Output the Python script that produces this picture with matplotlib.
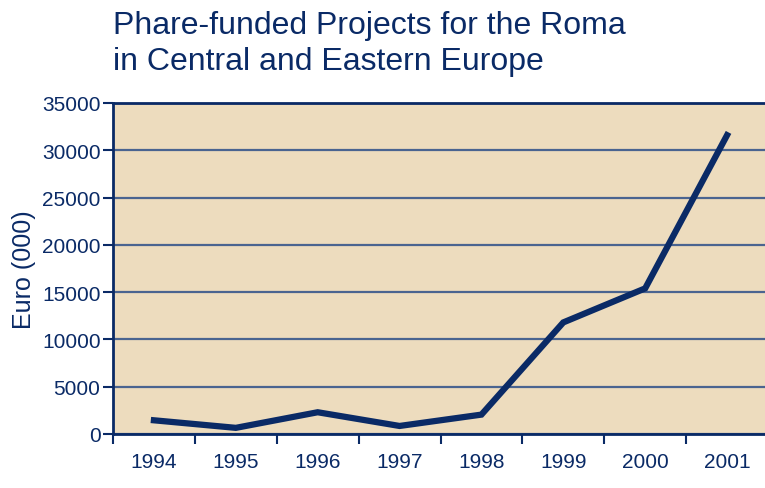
import matplotlib.pyplot as plt
import numpy as np

plt.rcParams['font.family'] = ['Liberation Sans', 'DejaVu Sans']

years = ["1994", "1995", "1996", "1997", "1998", "1999", "2000", "2001"]
euro_000 = [1450, 650, 2300, 850, 2050, 11800, 15400, 31600]

navy = "#0a2a66"
grid_col = "#4a6490"
bg = "#eddcbe"

fig = plt.figure(figsize=(7.65, 4.89), dpi=100)
# axes runs off the right edge, like the cropped original
ax = fig.add_axes([113 / 765, 1 - 435 / 489, 655 / 765, 331 / 489])
ax.set_facecolor(bg)

x = np.arange(len(years))
ax.plot(x, euro_000, color=navy, linewidth=4.5, solid_joinstyle='miter')

ax.set_xlim(-0.5, len(years) - 0.5)
ax.set_ylim(0, 35000)
ax.set_yticks(np.arange(0, 35001, 5000))
ax.yaxis.grid(True, color=grid_col, linewidth=1.6)
ax.set_axisbelow(True)

ax.set_xticks(x)
ax.set_xticklabels(years)
ax.set_xticks(np.arange(-0.5, len(years)), minor=True)
ax.tick_params(axis='x', which='major', length=0, pad=13, labelsize=15, labelcolor=navy)
ax.tick_params(axis='x', which='minor', length=7, width=1.5, color=navy)
ax.tick_params(axis='y', length=7, width=1.5, color=navy, labelsize=15, labelcolor=navy, pad=2)

for side in ['left', 'bottom', 'top']:
    ax.spines[side].set_color(navy)
    ax.spines[side].set_linewidth(2)
ax.spines['right'].set_visible(False)

ax.set_ylabel("Euro (000)", fontsize=18, color=navy, labelpad=4)

fig.text(113 / 765, 1 - 11 / 489, "Phare-funded Projects for the Roma\nin Central and Eastern Europe",
         fontsize=23, color=navy, ha='left', va='top', linespacing=1.25)

fig.savefig("out.png", dpi=100)
